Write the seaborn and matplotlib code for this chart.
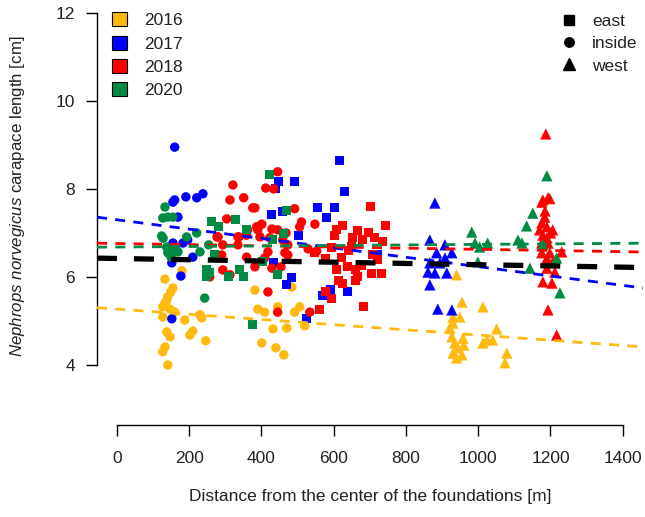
import numpy as np
import pandas as pd
import matplotlib
matplotlib.use("Agg")
import matplotlib.pyplot as plt
from matplotlib.patches import Patch
from matplotlib.lines import Line2D
import seaborn as sns

# ---------------- data ----------------
x_2016_inside = [133, 149, 141, 133, 127, 147, 160, 127, 188, 230, 235, 138, 147, 202, 210, 246, 133, 127, 141, 180, 155, 137,
                 382, 390, 409, 445, 492, 506, 432, 470, 520, 401, 440, 462, 484]
y_2016_inside = [5.95, 5.66, 5.55, 5.41, 5.32, 5.27, 5.20, 5.09, 5.02, 5.14, 5.07, 4.75, 4.64, 4.68, 4.77, 4.55, 4.41, 4.30, 4.00, 6.14, 5.75, 5.45,
                 5.70, 5.27, 5.20, 5.32, 5.20, 5.32, 4.82, 4.84, 4.89, 4.50, 4.39, 4.23, 5.77]
x_2016_west = [955, 1013, 940, 930, 949, 930, 927, 958, 935, 944, 930, 955, 940, 1051, 1024, 1040, 1013, 1079, 1074, 921, 960]
y_2016_west = [5.43, 5.32, 6.05, 5.09, 5.09, 4.95, 4.64, 4.61, 4.50, 4.39, 4.27, 4.23, 4.16, 4.82, 4.57, 4.57, 4.50, 4.27, 4.05, 4.84, 4.45]

x_2017_inside = [160, 155, 160, 191, 221, 238, 169, 155, 183, 196, 152, 210, 177, 152, 147]
y_2017_inside = [8.95, 7.70, 7.75, 7.82, 7.80, 7.89, 7.36, 6.77, 6.77, 6.84, 6.32, 6.45, 6.02, 5.05, 6.57]
x_2017_east = [617, 492, 448, 440, 631, 556, 603, 581, 429, 457, 504, 434, 484, 470, 592, 639, 570, 526, 722]
y_2017_east = [8.64, 8.16, 8.18, 8.02, 7.95, 7.57, 7.57, 7.34, 7.41, 7.48, 6.95, 6.32, 5.98, 5.84, 5.72, 5.68, 5.57, 5.05, 6.50]
x_2017_west = [880, 866, 908, 885, 927, 908, 861, 880, 913, 866, 888, 927, 866, 894]
y_2017_west = [7.68, 6.84, 6.73, 6.55, 6.55, 6.43, 6.11, 6.09, 6.09, 5.82, 5.27, 5.25, 6.32, 6.32]

x_2018_inside = [321, 313, 351, 376, 304, 277, 335, 359, 293, 335, 412, 434, 445, 492, 511, 548, 338, 362, 387, 401,
                 429, 445, 468, 506, 280, 423, 473, 529, 553, 382, 390, 396, 459, 418, 409, 429, 454, 465, 473, 418,
                 445, 534, 382, 290, 293, 313, 359, 257]
y_2018_inside = [8.09, 7.75, 7.80, 7.57, 7.32, 6.91, 6.91, 6.95, 6.73, 6.73, 8.02, 8.00, 8.39, 7.55, 7.25, 7.20, 6.91, 7.07, 7.14, 7.20,
                 7.09, 7.07, 7.00, 7.14, 6.91, 6.89, 6.73, 6.64, 6.59, 7.57, 7.07, 6.91, 6.84, 6.57, 6.43, 6.20, 6.23, 6.55, 6.50, 5.66,
                 5.20, 5.20, 6.23, 6.50, 6.16, 6.05, 6.45, 6.00]
x_2018_east = [703, 625, 609, 667, 695, 744, 603, 653, 681, 714, 736, 595, 548, 576, 623, 639, 659, 667, 612, 625,
               706, 733, 722, 708, 576, 595, 562, 683, 659, 609, 678, 640, 650]
y_2018_east = [7.61, 7.18, 7.07, 7.05, 7.00, 7.18, 6.95, 6.89, 6.84, 6.89, 6.80, 6.68, 6.55, 6.43, 6.45, 6.23, 6.16, 6.00, 5.93, 5.86,
               6.09, 6.07, 6.39, 6.50, 5.66, 5.52, 5.27, 5.32, 5.93, 6.16, 6.27, 6.60, 6.70]
x_2018_west = [1187, 1179, 1193, 1198, 1176, 1184, 1176, 1190, 1206, 1170, 1179, 1190, 1193, 1176, 1176, 1198, 1231, 1190,
               1206, 1190, 1212, 1179, 1204, 1193, 1217, 1185, 1200]
y_2018_west = [9.25, 7.75, 7.80, 7.78, 7.70, 7.36, 7.23, 7.14, 7.07, 7.07, 6.95, 6.89, 6.77, 6.77, 6.55, 6.55, 6.57, 6.43,
               6.34, 6.20, 6.11, 5.89, 5.86, 5.25, 4.68, 7.50, 7.00]

x_2020_inside = [133, 127, 141, 155, 124, 128, 193, 221, 138, 254, 141, 169, 230, 243, 150, 160]
y_2020_inside = [7.59, 7.34, 7.36, 7.36, 6.93, 6.88, 6.91, 7.00, 6.68, 6.73, 6.55, 6.57, 6.57, 5.52, 6.45, 6.62]
x_2020_east = [421, 263, 280, 329, 359, 470, 460, 432, 249, 249, 271, 310, 340, 351, 376, 445, 404, 255]
y_2020_east = [8.32, 7.25, 7.14, 7.30, 7.07, 7.52, 6.98, 6.84, 6.18, 6.00, 6.50, 6.02, 6.18, 6.02, 4.91, 6.05, 6.35, 6.10]
x_2020_west = [982, 991, 1004, 1026, 1110, 1121, 1134, 1151, 1190, 1179, 1143, 1217, 1226, 999]
y_2020_west = [7.02, 6.77, 6.68, 6.77, 6.84, 6.77, 7.16, 7.45, 8.30, 6.73, 6.20, 6.43, 5.64, 6.34]

years = ["2016", "2017", "2018", "2020"]
sides = ["east", "inside", "west"]
year_colors = ["#FFB90F", "#0000FF", "#FF0000", "#008B45"]

# fitted regression lines (intercept at 0 m, slope per m)
fit_years = ["2016", "2017", "2018", "2020"]
fit_intercept = [5.27, 7.30, 6.76, 6.68]
fit_slope = [-5.9e-4, -1.065e-3, -1.32e-4, 6.0e-5]
overall_intercept = 6.42
overall_slope = -1.41e-4

x_ticks = [0, 200, 400, 600, 800, 1000, 1200, 1400]
y_ticks = [4, 6, 8, 10, 12]

# ---------------- build table ----------------
groups = [
    ("2016", "inside", x_2016_inside, y_2016_inside),
    ("2016", "west", x_2016_west, y_2016_west),
    ("2017", "inside", x_2017_inside, y_2017_inside),
    ("2017", "east", x_2017_east, y_2017_east),
    ("2017", "west", x_2017_west, y_2017_west),
    ("2018", "inside", x_2018_inside, y_2018_inside),
    ("2018", "east", x_2018_east, y_2018_east),
    ("2018", "west", x_2018_west, y_2018_west),
    ("2020", "inside", x_2020_inside, y_2020_inside),
    ("2020", "east", x_2020_east, y_2020_east),
    ("2020", "west", x_2020_west, y_2020_west),
]
rows = []
for yr, sd, xs, ys in groups:
    for xv, yv in zip(xs, ys):
        rows.append({"year": yr, "side": sd, "dist": xv, "length": yv})
df = pd.DataFrame(rows)

# ---------------- style ----------------
sns.set_theme(style="ticks")
plt.rcParams["font.family"] = ["Liberation Sans", "DejaVu Sans"]
plt.rcParams["mathtext.fontset"] = "custom"
plt.rcParams["mathtext.it"] = "Liberation Sans:italic"
plt.rcParams["mathtext.rm"] = "Liberation Sans"
plt.rcParams["lines.scale_dashes"] = False

fig = plt.figure(figsize=(6.45, 5.17), dpi=100)
ax = fig.add_axes([97 / 645, 92 / 517, 546 / 645, 420 / 517])

palette = dict(zip(years, year_colors))
markers = {"east": "s", "inside": "o", "west": "^"}
marker_sizes = {"east": 42, "inside": 46, "west": 66}
sns.scatterplot(data=df, x="dist", y="length", hue="year", style="side", size="side",
                palette=palette, markers=markers, sizes=marker_sizes,
                hue_order=years, style_order=sides, size_order=sides,
                linewidth=0, ax=ax, legend=False, zorder=2)

ax.set_xlim(-55, 1456)
ax.set_ylim(2.636, 12.18)
xx = np.array(ax.get_xlim())
for yr, b0, b1 in zip(fit_years, fit_intercept, fit_slope):
    ax.plot(xx, b0 + b1 * xx, color=palette[yr], lw=2.0, dashes=(7.2, 6.0), zorder=3)
ax.plot(xx, overall_intercept + overall_slope * xx, color="black", lw=3.8,
        dashes=(14.4, 12.2), zorder=4)

# axes styling (R-like)
for s in ["top", "right"]:
    ax.spines[s].set_visible(False)
ax.spines["left"].set_bounds(4, 12)
ax.spines["bottom"].set_bounds(0, 1400)
for s in ["left", "bottom"]:
    ax.spines[s].set_color("black")
    ax.spines[s].set_linewidth(1.0)
ax.set_xticks(x_ticks)
ax.set_yticks(y_ticks)
ax.set_xticklabels([str(v) for v in x_ticks])
ax.set_yticklabels([str(v) for v in y_ticks])
ax.tick_params(axis="both", direction="out", length=8, width=1.0, color="black",
               labelsize=12.5, labelcolor="#222222")
ax.tick_params(axis="y", pad=8)
ax.tick_params(axis="x", pad=11)
ax.set_xlabel("Distance from the center of the foundations [m]", fontsize=12.5, color="#222222")
ax.xaxis.set_label_coords((370 - 97) / 546, -(497 - 425) / 420)
ax.set_ylabel(r"$\it{Nephrops\ norvegicus}$ carapace length [cm]", fontsize=12.2, color="#222222")
ax.yaxis.set_label_coords(-(97 - 18) / 546, (425 - 196) / 420)
ax.xaxis.label.set_va("center")
ax.yaxis.label.set_va("center")

# legends
h_years = [Patch(facecolor=c, edgecolor="black", linewidth=0.8) for c in year_colors]
leg1 = ax.legend(h_years, years, loc="upper left", bbox_to_anchor=(109 / 645, 1 - 9 / 517),
                 bbox_transform=fig.transFigure, frameon=False, fontsize=12.5,
                 handlelength=0.85, handleheight=0.85, handletextpad=1.0, labelspacing=0.42,
                 borderaxespad=0, borderpad=0.2)
for t in leg1.get_texts():
    t.set_color("#222222")
ax.add_artist(leg1)
legend_msize = {"east": 6.5, "inside": 6.8, "west": 8.0}
h_sides = [Line2D([], [], linestyle="none", marker=markers[s], color="black",
                  markersize=legend_msize[s]) for s in sides]
leg2 = ax.legend(h_sides, sides, loc="upper left", bbox_to_anchor=(558 / 645, 1 - 10 / 517),
                 bbox_transform=fig.transFigure, frameon=False, fontsize=12.5,
                 handlelength=0.9, handletextpad=0.85, labelspacing=0.42,
                 borderaxespad=0, borderpad=0.2)
for t in leg2.get_texts():
    t.set_color("#222222")

fig.savefig("out.png", dpi=100)
